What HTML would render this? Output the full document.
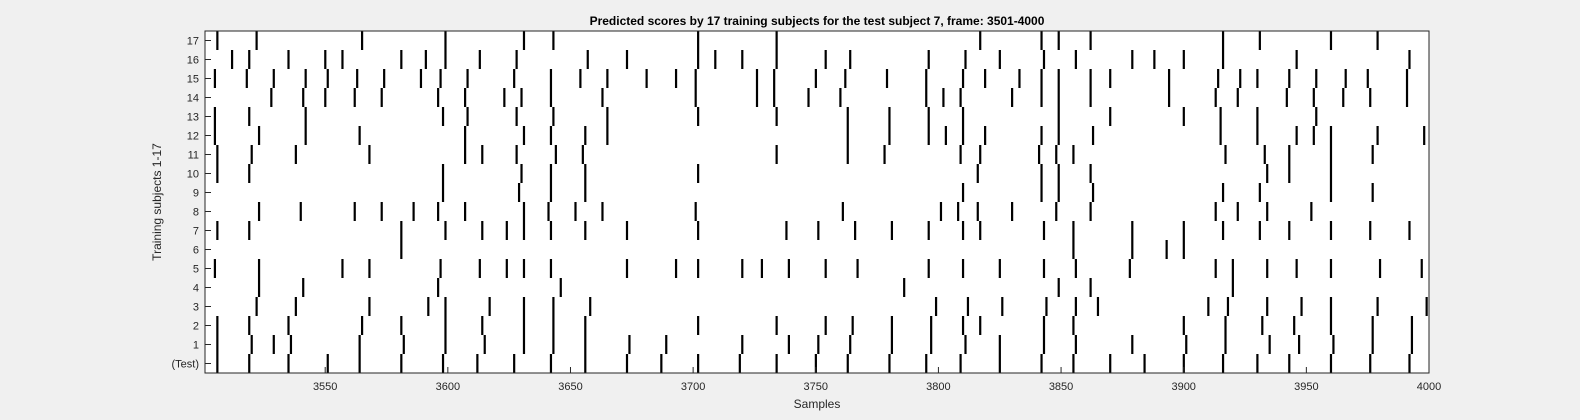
<!DOCTYPE html>
<html><head><meta charset="utf-8"><style>
html,body{margin:0;padding:0;background:#f0f0f0;}
svg{display:block;font-family:"Liberation Sans",sans-serif;}
</style></head><body>
<svg id="chart" width="1580" height="420" viewBox="0 0 1580 420" xmlns="http://www.w3.org/2000/svg">
<rect x="0" y="0" width="1580" height="420" fill="#f0f0f0"/>
<rect x="205" y="31" width="1224" height="342" fill="#fff"/>
<g id="marks"></g>
<g id="axes"></g>
<rect x="205" y="31" width="1224" height="342" fill="none" stroke="#262626" stroke-width="1"/>
<text x="817" y="25" text-anchor="middle" font-size="12" font-weight="bold" fill="#000">Predicted scores by 17 training subjects for the test subject 7, frame: 3501-4000</text>
<text x="817" y="408" text-anchor="middle" font-size="12" fill="#262626">Samples</text>
<text transform="translate(161,202) rotate(-90)" text-anchor="middle" font-size="12" fill="#262626">Training subjects 1-17</text>
</svg>
<script>
const rowLabels = ["(Test)","1","2","3","4","5","6","7","8","9","10","11","12","13","14","15","16","17"];
const xTicks = [3550,3600,3650,3700,3750,3800,3850,3900,3950,4000];
const rowTest = [3506,3519,3535,3551,3564,3581,3598,3612,3627,3642,3656,3673,3687,3702,3719,3734,3750,3763,3780,3795,3809,3825,3842,3855,3870,3884,3900,3916,3930,3943,3960,3976,3992];
const row1 = [3506,3520,3529,3536,3564,3582,3599,3615,3631,3643,3656,3674,3689,3720,3739,3751,3764,3781,3797,3811,3825,3843,3856,3879,3901,3917,3935,3947,3961,3977,3993];
const row2 = [3506,3519,3535,3565,3581,3599,3614,3631,3643,3656,3702,3734,3754,3765,3781,3797,3810,3817,3843,3855,3900,3917,3932,3945,3960,3977,3993];
const row3 = [3522,3538,3568,3592,3599,3617,3631,3643,3658,3799,3812,3826,3844,3856,3865,3910,3918,3934,3948,3960,3979,3999];
const row4 = [3523,3541,3596,3646,3786,3849,3862,3920];
const row5 = [3505,3523,3557,3568,3597,3613,3624,3631,3642,3673,3693,3702,3720,3728,3739,3754,3767,3796,3810,3825,3843,3856,3878,3913,3920,3934,3946,3960,3980,3997];
const row6 = [3581,3855,3879,3893,3900];
const row7 = [3506,3519,3581,3599,3614,3624,3631,3642,3656,3673,3702,3738,3751,3766,3781,3796,3810,3817,3843,3855,3879,3900,3916,3931,3943,3960,3976,3992];
const row8 = [3523,3540,3562,3573,3586,3596,3607,3631,3641,3652,3663,3701,3761,3801,3808,3816,3830,3848,3862,3913,3922,3934,3952];
const row9 = [3598,3629,3642,3656,3810,3842,3849,3863,3916,3931,3960,3977];
const row10 = [3506,3519,3598,3630,3642,3656,3702,3816,3842,3849,3862,3934,3943,3960];
const row11 = [3506,3520,3538,3568,3607,3614,3628,3644,3655,3734,3763,3778,3809,3817,3841,3848,3855,3917,3933,3943,3960,3977];
const row12 = [3505,3523,3542,3564,3607,3631,3642,3656,3665,3763,3780,3796,3803,3810,3819,3842,3849,3863,3915,3930,3946,3953,3960,3979,3998];
const row13 = [3505,3519,3542,3598,3608,3628,3643,3665,3702,3734,3763,3780,3796,3810,3849,3870,3900,3915,3930,3954];
const row14 = [3528,3541,3550,3562,3573,3596,3607,3623,3630,3642,3663,3701,3726,3733,3747,3760,3795,3802,3809,3830,3842,3849,3862,3894,3913,3922,3942,3953,3965,3976,3991];
const row15 = [3505,3518,3529,3542,3551,3563,3574,3589,3597,3608,3627,3642,3654,3665,3681,3693,3701,3726,3733,3750,3762,3779,3795,3810,3819,3833,3842,3849,3862,3870,3894,3914,3923,3930,3943,3954,3966,3975,3991];
const row16 = [3512,3519,3535,3550,3557,3581,3591,3599,3613,3628,3657,3673,3702,3709,3720,3734,3754,3764,3796,3811,3825,3843,3856,3879,3888,3900,3916,3946,3992];
const row17 = [3506,3522,3565,3599,3631,3643,3702,3734,3817,3842,3849,3862,3916,3931,3960,3979];
const rows = [rowTest,row1,row2,row3,row4,row5,row6,row7,row8,row9,row10,row11,row12,row13,row14,row15,row16,row17];

const NS = "http://www.w3.org/2000/svg";
const X0 = 205, X1 = 1429, Y0 = 373, Y1 = 31;
const xMin = 3501, xMax = 4000;
function xs(v){ return X0 + (v - xMin) / (xMax - xMin) * (X1 - X0); }
function ys(r){ return Y0 + (r + 0.5) / 18 * (Y1 - Y0); }
const rowH = (Y0 - Y1) / 18;

const marks = document.getElementById('marks');
rows.forEach((arr, r) => {
  arr.forEach(v => {
    const el = document.createElementNS(NS, 'rect');
    el.setAttribute('x', (xs(v) - 1).toFixed(2));
    el.setAttribute('y', (ys(r) - rowH / 2).toFixed(2));
    el.setAttribute('width', '2.2');
    el.setAttribute('height', rowH.toFixed(2));
    el.setAttribute('fill', '#000');
    
    
    marks.appendChild(el);
  });
});

const axes = document.getElementById('axes');
xTicks.forEach(t => {
  const x = xs(t);
  const l1 = document.createElementNS(NS, 'line');
  l1.setAttribute('x1', x); l1.setAttribute('x2', x);
  l1.setAttribute('y1', Y0); l1.setAttribute('y2', Y0 - 6);
  l1.setAttribute('stroke', '#262626');
  
  
  axes.appendChild(l1);
  const tx = document.createElementNS(NS, 'text');
  tx.setAttribute('x', x); tx.setAttribute('y', Y0 + 17);
  tx.setAttribute('text-anchor', 'middle');
  tx.setAttribute('font-size', '11');
  tx.setAttribute('fill', '#262626');
  tx.textContent = t;
  
  
  axes.appendChild(tx);
});
rowLabels.forEach((lab, r) => {
  const y = ys(r);
  const l1 = document.createElementNS(NS, 'line');
  l1.setAttribute('x1', X0); l1.setAttribute('x2', X0 + 6);
  l1.setAttribute('y1', y); l1.setAttribute('y2', y);
  l1.setAttribute('stroke', '#262626');
  
  
  axes.appendChild(l1);
  const tx = document.createElementNS(NS, 'text');
  tx.setAttribute('x', X0 - 6); tx.setAttribute('y', y + 4);
  tx.setAttribute('text-anchor', 'end');
  tx.setAttribute('font-size', '11');
  tx.setAttribute('fill', '#262626');
  tx.textContent = lab;
  
  
  axes.appendChild(tx);
});
</script>
</body></html>
